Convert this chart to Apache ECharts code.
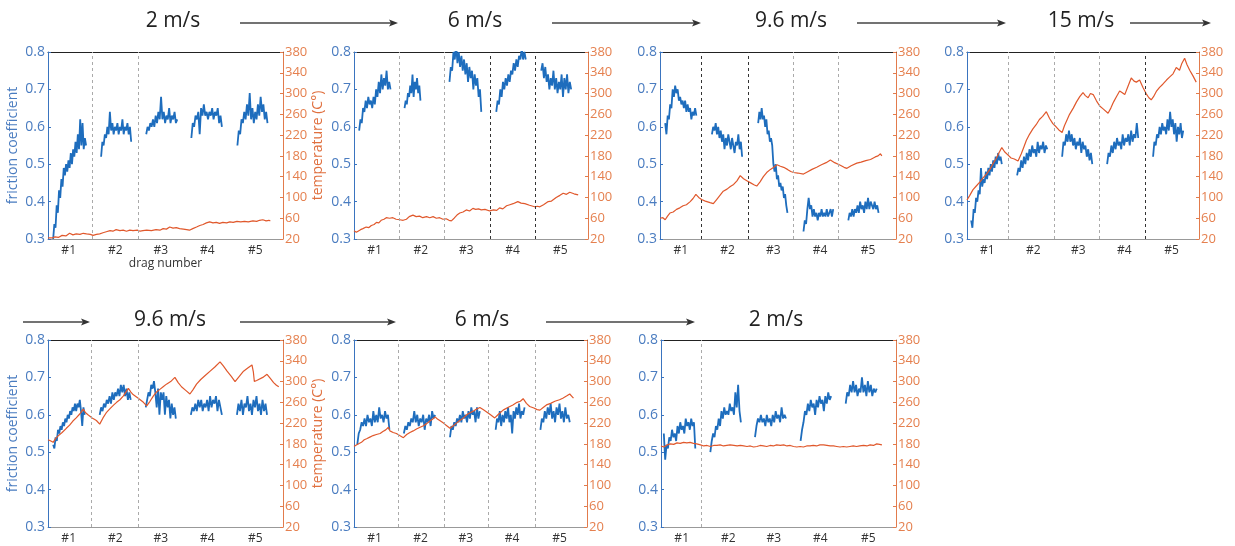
<!DOCTYPE html>
<html><head><meta charset="utf-8">
<script src="https://cdn.jsdelivr.net/npm/echarts@6/dist/echarts.min.js"></script>
<style>html,body{margin:0;padding:0;background:#fff}#c{width:1235px;height:546px}</style>
</head><body><div id="c"></div>
<script>
// ---------- data ----------
const dragLabels = ['#1','#2','#3','#4','#5'];
const dragLabelPos = [0.94, 1.93, 2.9, 3.89, 4.91];
const frictionTicks = [0.3, 0.8, 0.1];   // min, max, step
const tempTicks = [20, 380, 40];
const speedsRow1 = ['2 m/s', '6 m/s', '9.6 m/s', '15 m/s'];
const speedsRow2 = ['9.6 m/s', '6 m/s', '2 m/s'];

// friction: per drag, values sampled evenly over the drag's span
const fricSpan1 = [[0.61,1.31],[1.63,2.27],[2.59,3.25],[3.55,4.2],[4.53,5.17]];
const fric1 = [
 [0.30,0.34,0.33,0.39,0.37,0.43,0.41,0.46,0.44,0.49,0.47,0.50,0.48,0.51,0.49,0.53,0.50,0.54,0.52,0.56,0.53,0.58,0.54,0.62,0.55,0.61,0.54,0.57,0.55],
 [0.52,0.56,0.55,0.58,0.57,0.60,0.58,0.64,0.59,0.61,0.58,0.60,0.59,0.61,0.58,0.60,0.59,0.62,0.58,0.60,0.59,0.61,0.58,0.60,0.56],
 [0.58,0.60,0.59,0.61,0.60,0.62,0.60,0.63,0.61,0.64,0.62,0.68,0.62,0.64,0.61,0.63,0.62,0.65,0.61,0.63,0.62,0.64,0.61,0.62],
 [0.57,0.61,0.60,0.63,0.62,0.64,0.58,0.65,0.63,0.66,0.63,0.64,0.62,0.64,0.63,0.65,0.62,0.64,0.63,0.65,0.61,0.63,0.60],
 [0.55,0.59,0.58,0.62,0.61,0.64,0.62,0.66,0.63,0.69,0.62,0.65,0.61,0.64,0.62,0.66,0.63,0.68,0.64,0.66,0.62,0.64,0.61]];
const fricSpan2 = [[0.61,1.28],[1.58,1.92],[2.54,3.22],[3.54,4.17],[4.5,5.14]];
const fric2 = [
 [0.59,0.62,0.61,0.65,0.64,0.67,0.65,0.68,0.66,0.67,0.65,0.68,0.66,0.70,0.68,0.72,0.69,0.74,0.70,0.73,0.71,0.75,0.70,0.72,0.70],
 [0.65,0.67,0.66,0.69,0.68,0.71,0.69,0.74,0.68,0.72,0.70,0.73,0.69,0.71,0.67],
 [0.72,0.76,0.75,0.80,0.78,0.82,0.77,0.80,0.76,0.79,0.75,0.78,0.74,0.77,0.72,0.76,0.73,0.75,0.70,0.74,0.71,0.73,0.68,0.70,0.64],
 [0.64,0.67,0.66,0.70,0.68,0.72,0.70,0.73,0.71,0.74,0.72,0.75,0.74,0.77,0.75,0.78,0.76,0.79,0.78,0.81,0.78,0.80,0.78],
 [0.75,0.77,0.73,0.76,0.72,0.74,0.70,0.73,0.71,0.75,0.70,0.73,0.69,0.72,0.70,0.74,0.68,0.73,0.70,0.74,0.69,0.72,0.70]];
const fricSpan3 = [[0.61,1.27],[1.6,2.24],[2.58,3.2],[3.54,4.17],[4.49,5.13]];
const fric3 = [
 [0.61,0.58,0.63,0.62,0.66,0.65,0.70,0.68,0.71,0.69,0.70,0.67,0.68,0.66,0.67,0.65,0.67,0.64,0.66,0.64,0.65,0.62,0.64,0.63,0.65,0.63],
 [0.58,0.60,0.59,0.61,0.58,0.60,0.57,0.59,0.56,0.58,0.54,0.57,0.55,0.58,0.56,0.54,0.57,0.55,0.53,0.56,0.55,0.58,0.54,0.56,0.52],
 [0.61,0.64,0.62,0.65,0.62,0.63,0.60,0.62,0.58,0.59,0.56,0.57,0.55,0.50,0.48,0.50,0.46,0.47,0.44,0.45,0.43,0.44,0.41,0.42,0.39,0.37],
 [0.32,0.35,0.34,0.38,0.41,0.38,0.39,0.36,0.38,0.36,0.37,0.35,0.37,0.36,0.38,0.36,0.37,0.36,0.38,0.36,0.37,0.38,0.36,0.38],
 [0.35,0.37,0.36,0.38,0.36,0.38,0.37,0.39,0.37,0.40,0.38,0.39,0.37,0.40,0.38,0.41,0.38,0.40,0.39,0.38,0.40,0.38,0.39,0.37]];
const fricSpan4 = [[0.59,1.25],[1.58,2.23],[2.55,3.2],[3.52,4.19],[4.51,5.16]];
const fric4 = [
 [0.35,0.33,0.38,0.37,0.41,0.40,0.43,0.42,0.49,0.44,0.46,0.45,0.48,0.46,0.49,0.47,0.50,0.48,0.51,0.49,0.52,0.50,0.53,0.51,0.52,0.50],
 [0.47,0.49,0.48,0.51,0.49,0.52,0.50,0.53,0.51,0.54,0.52,0.55,0.53,0.54,0.52,0.56,0.53,0.55,0.54,0.56,0.53,0.55,0.54],
 [0.52,0.56,0.55,0.58,0.56,0.59,0.56,0.58,0.55,0.57,0.54,0.56,0.55,0.57,0.53,0.56,0.54,0.55,0.52,0.54,0.51,0.53,0.50],
 [0.50,0.53,0.52,0.55,0.53,0.56,0.54,0.57,0.55,0.56,0.54,0.58,0.55,0.57,0.56,0.58,0.55,0.59,0.56,0.58,0.57,0.61,0.57],
 [0.52,0.56,0.55,0.58,0.57,0.60,0.58,0.61,0.59,0.60,0.58,0.62,0.59,0.64,0.60,0.62,0.58,0.61,0.56,0.60,0.58,0.61,0.57,0.59]];
const fricSpan5 = [[0.61,1.28],[1.6,2.26],[2.58,3.22],[3.54,4.2],[4.52,5.16]];
const fric5 = [
 [0.52,0.51,0.54,0.53,0.56,0.55,0.57,0.56,0.58,0.57,0.59,0.58,0.60,0.59,0.61,0.60,0.62,0.61,0.63,0.61,0.63,0.62,0.64,0.61,0.57,0.62,0.60],
 [0.60,0.62,0.61,0.63,0.62,0.64,0.63,0.65,0.63,0.66,0.64,0.66,0.65,0.67,0.65,0.68,0.66,0.68,0.65,0.67,0.64,0.66,0.64],
 [0.62,0.64,0.66,0.65,0.68,0.67,0.69,0.66,0.62,0.67,0.60,0.66,0.64,0.66,0.60,0.65,0.62,0.64,0.59,0.63,0.60,0.62,0.59],
 [0.60,0.62,0.61,0.63,0.61,0.64,0.62,0.64,0.61,0.63,0.62,0.64,0.61,0.65,0.62,0.64,0.63,0.65,0.61,0.64,0.62,0.60],
 [0.60,0.63,0.61,0.64,0.60,0.63,0.62,0.65,0.61,0.63,0.60,0.64,0.62,0.65,0.61,0.63,0.60,0.64,0.61,0.63,0.60]];
const fricSpan6 = [[0.57,1.26],[1.57,2.24],[2.56,3.2],[3.54,4.16],[4.5,5.13]];
const fric6 = [
 [0.52,0.55,0.56,0.58,0.57,0.59,0.57,0.60,0.58,0.59,0.57,0.61,0.58,0.60,0.58,0.62,0.59,0.60,0.58,0.61,0.59,0.60,0.56],
 [0.55,0.57,0.56,0.58,0.57,0.59,0.58,0.61,0.58,0.60,0.57,0.59,0.58,0.60,0.56,0.59,0.58,0.60,0.57,0.61,0.59,0.60],
 [0.54,0.57,0.56,0.58,0.57,0.59,0.58,0.60,0.58,0.61,0.59,0.60,0.58,0.61,0.59,0.62,0.60,0.61,0.58,0.62,0.59,0.61],
 [0.56,0.59,0.58,0.61,0.57,0.60,0.58,0.61,0.59,0.62,0.58,0.60,0.55,0.61,0.59,0.62,0.60,0.63,0.59,0.61,0.60,0.62],
 [0.56,0.59,0.58,0.61,0.59,0.62,0.60,0.63,0.59,0.61,0.58,0.62,0.60,0.63,0.59,0.61,0.58,0.62,0.59,0.60,0.58]];
const fricSpan7 = [[0.56,1.23],[1.55,2.2],[2.5,3.16],[3.47,4.12],[4.43,5.09]];
const fric7 = [
 [0.55,0.48,0.52,0.51,0.54,0.53,0.56,0.54,0.55,0.53,0.57,0.55,0.58,0.56,0.57,0.55,0.59,0.57,0.58,0.56,0.59,0.57,0.58,0.51],
 [0.50,0.53,0.55,0.54,0.57,0.56,0.59,0.57,0.61,0.59,0.62,0.60,0.61,0.60,0.63,0.61,0.62,0.60,0.66,0.62,0.68,0.61,0.58],
 [0.54,0.57,0.59,0.58,0.60,0.58,0.59,0.57,0.60,0.58,0.59,0.57,0.60,0.58,0.61,0.59,0.60,0.58,0.62,0.59,0.60,0.59],
 [0.53,0.56,0.58,0.61,0.60,0.63,0.61,0.64,0.62,0.63,0.60,0.64,0.62,0.65,0.63,0.64,0.61,0.65,0.63,0.66,0.64,0.65],
 [0.63,0.66,0.65,0.68,0.66,0.69,0.66,0.68,0.65,0.67,0.66,0.70,0.66,0.68,0.65,0.69,0.66,0.68,0.65,0.67,0.66,0.67]];

// temperature: [drag position, °C]
const temp1 = [[0.5,22],[0.58,22],[0.65,24],[0.72,23],[0.8,27],[0.88,26],[0.96,31],[1.03,28],[1.1,30],[1.18,29],[1.25,31],[1.32,30],[1.4,29],[1.46,27],[1.53,29],[1.6,30],[1.67,32],[1.74,34],[1.82,36],[1.88,35],[1.95,38],[2.03,36],[2.1,37],[2.17,35],[2.24,37],[2.31,36],[2.4,37],[2.46,35],[2.52,36],[2.6,37],[2.7,36],[2.8,38],[2.88,37],[2.95,40],[3.02,39],[3.09,43],[3.16,41],[3.23,42],[3.3,40],[3.38,39],[3.45,38],[3.51,37],[3.58,40],[3.66,43],[3.73,46],[3.8,48],[3.87,51],[3.94,53],[4.01,51],[4.08,52],[4.15,50],[4.22,52],[4.3,51],[4.37,53],[4.44,52],[4.52,54],[4.6,53],[4.68,54],[4.76,53],[4.86,55],[4.94,54],[5.0,56],[5.07,57],[5.14,55],[5.2,56],[5.23,55]];
const temp2 = [[0.5,36],[0.55,33],[0.59,36],[0.64,38],[0.69,40],[0.76,43],[0.82,42],[0.87,46],[0.93,48],[0.98,52],[1.03,51],[1.08,56],[1.14,58],[1.19,61],[1.26,60],[1.33,61],[1.4,58],[1.48,57],[1.55,56],[1.62,58],[1.68,63],[1.72,60],[1.76,66],[1.83,63],[1.9,64],[1.97,61],[2.05,63],[2.12,61],[2.19,63],[2.26,60],[2.33,61],[2.4,58],[2.47,59],[2.53,56],[2.58,55],[2.64,60],[2.7,66],[2.76,70],[2.83,72],[2.9,76],[2.97,74],[3.04,79],[3.1,77],[3.16,78],[3.22,76],[3.3,77],[3.4,74],[3.48,76],[3.55,75],[3.61,80],[3.68,78],[3.76,84],[3.83,86],[3.9,88],[4.0,92],[4.07,89],[4.15,88],[4.25,85],[4.36,82],[4.42,83],[4.47,82],[4.55,86],[4.65,92],[4.72,93],[4.82,100],[4.9,104],[4.97,108],[5.04,106],[5.11,110],[5.2,107],[5.29,105]];
const temp3 = [[0.5,60],[0.56,61],[0.61,57],[0.66,64],[0.71,70],[0.78,72],[0.85,77],[0.92,80],[0.99,84],[1.06,86],[1.14,92],[1.2,98],[1.26,106],[1.32,100],[1.38,96],[1.46,93],[1.56,90],[1.63,88],[1.7,96],[1.77,104],[1.84,112],[1.92,116],[1.99,121],[2.06,125],[2.13,132],[2.2,142],[2.27,136],[2.34,132],[2.42,128],[2.5,124],[2.55,122],[2.62,130],[2.69,140],[2.76,148],[2.84,154],[2.91,158],[2.98,163],[3.05,160],[3.12,158],[3.2,154],[3.27,150],[3.33,148],[3.42,147],[3.54,145],[3.62,149],[3.72,154],[3.82,158],[3.92,163],[4.02,167],[4.11,172],[4.2,167],[4.32,162],[4.4,158],[4.46,156],[4.55,161],[4.67,166],[4.76,168],[4.86,171],[4.96,173],[5.06,178],[5.12,180],[5.17,184],[5.2,180]];
const temp4 = [[0.5,95],[0.56,104],[0.63,115],[0.7,122],[0.78,130],[0.85,138],[0.92,145],[1.0,155],[1.06,165],[1.13,175],[1.19,186],[1.25,196],[1.31,188],[1.38,182],[1.45,176],[1.52,174],[1.6,170],[1.67,184],[1.73,198],[1.78,210],[1.85,222],[1.92,232],[1.99,240],[2.06,250],[2.13,256],[2.21,265],[2.28,252],[2.35,242],[2.42,236],[2.48,230],[2.55,225],[2.6,238],[2.66,250],[2.71,260],[2.79,272],[2.86,284],[2.93,294],[3.0,302],[3.05,296],[3.11,292],[3.16,300],[3.22,298],[3.29,286],[3.36,276],[3.44,270],[3.54,262],[3.6,272],[3.66,284],[3.72,294],[3.79,305],[3.84,302],[3.9,298],[3.97,314],[4.04,330],[4.1,324],[4.15,322],[4.22,326],[4.29,312],[4.36,300],[4.42,292],[4.47,288],[4.52,294],[4.58,304],[4.65,312],[4.72,318],[4.8,326],[4.87,332],[4.94,338],[5.01,350],[5.08,345],[5.13,358],[5.19,368],[5.24,356],[5.3,345],[5.37,334],[5.44,322]];
const temp5 = [[0.5,188],[0.55,186],[0.61,183],[0.66,190],[0.71,195],[0.8,202],[0.89,210],[0.96,216],[1.03,224],[1.1,230],[1.18,238],[1.25,247],[1.3,240],[1.35,236],[1.44,230],[1.53,225],[1.6,218],[1.67,230],[1.74,240],[1.82,248],[1.9,255],[1.96,260],[2.03,265],[2.1,272],[2.16,280],[2.21,287],[2.26,280],[2.31,275],[2.42,268],[2.53,260],[2.6,253],[2.67,262],[2.74,272],[2.81,280],[2.88,285],[2.95,290],[3.02,295],[3.11,300],[3.2,308],[3.27,298],[3.34,290],[3.43,283],[3.52,276],[3.59,285],[3.66,295],[3.75,304],[3.85,312],[3.95,320],[4.05,328],[4.16,338],[4.23,330],[4.31,320],[4.4,310],[4.48,300],[4.57,310],[4.66,320],[4.75,326],[4.84,332],[4.87,318],[4.89,300],[4.94,302],[4.98,300],[5.07,308],[5.16,314],[5.23,306],[5.3,298],[5.36,293],[5.41,290]];
const temp6 = [[0.5,175],[0.55,178],[0.59,180],[0.66,183],[0.72,188],[0.77,190],[0.84,193],[0.91,196],[0.98,198],[1.06,200],[1.12,204],[1.18,207],[1.24,212],[1.27,205],[1.34,202],[1.41,200],[1.48,196],[1.56,192],[1.63,198],[1.7,202],[1.77,205],[1.85,209],[1.92,212],[1.99,215],[2.06,219],[2.13,224],[2.19,228],[2.24,232],[2.29,228],[2.34,225],[2.42,220],[2.49,215],[2.56,210],[2.63,215],[2.7,220],[2.77,225],[2.85,230],[2.92,236],[2.99,240],[3.06,243],[3.13,247],[3.2,250],[3.27,246],[3.34,242],[3.43,236],[3.52,230],[3.6,237],[3.7,245],[3.8,250],[3.91,255],[4.0,260],[4.07,262],[4.13,267],[4.2,258],[4.27,252],[4.36,249],[4.43,246],[4.49,245],[4.56,250],[4.63,255],[4.72,258],[4.81,262],[4.91,265],[4.98,268],[5.06,272],[5.13,276],[5.17,272],[5.21,268]];
const temp7 = [[0.5,176],[0.56,174],[0.63,178],[0.7,180],[0.77,179],[0.84,182],[0.91,181],[0.98,183],[1.05,182],[1.12,183],[1.19,181],[1.26,180],[1.34,178],[1.41,176],[1.48,177],[1.55,175],[1.62,177],[1.69,177],[1.76,178],[1.83,176],[1.9,177],[1.97,178],[2.05,177],[2.12,176],[2.19,177],[2.26,176],[2.33,175],[2.4,176],[2.47,174],[2.54,175],[2.61,177],[2.68,176],[2.75,175],[2.82,177],[2.89,176],[2.96,178],[3.04,177],[3.11,178],[3.18,176],[3.25,177],[3.32,175],[3.39,174],[3.46,175],[3.53,174],[3.6,176],[3.67,176],[3.74,177],[3.81,176],[3.88,178],[3.96,178],[4.03,177],[4.1,176],[4.17,176],[4.24,175],[4.31,174],[4.38,175],[4.45,174],[4.52,175],[4.59,176],[4.66,175],[4.73,176],[4.81,177],[4.88,176],[4.95,178],[5.02,177],[5.09,180],[5.15,179],[5.2,178]];

// drag boundaries (position, dark?)
const div1 = [[1.44,0],[2.42,0]];
const div2 = [[1.46,0],[2.42,0],[3.41,1],[4.37,1]];
const div3 = [[1.38,1],[2.36,1],[3.33,0],[4.28,0]];
const div4 = [[1.38,0],[2.39,0],[3.36,0],[4.35,1]];
const div5 = [[1.42,0],[2.41,0]];
const div6 = [[1.44,0],[2.43,0],[3.39,0],[4.38,0]];
const div7 = [[1.36,0]];

// ---------- build ----------
const fricAll = [fric1,fric2,fric3,fric4,fric5,fric6,fric7];
const spanAll = [fricSpan1,fricSpan2,fricSpan3,fricSpan4,fricSpan5,fricSpan6,fricSpan7];
const tempAll = [temp1,temp2,temp3,temp4,temp5,temp6,temp7];
const divAll = [div1,div2,div3,div4,div5,div6,div7];

const gridsPx = [
 {left:48, top:52, width:235, height:187},
 {left:354, top:52, width:234, height:187},
 {left:660, top:52, width:236, height:187},
 {left:967, top:52, width:232, height:187},
 {left:48, top:340, width:235, height:187},
 {left:354, top:340, width:233, height:187},
 {left:661, top:340, width:235, height:187}];
const withTitles = [true,false,false,false,true,false,false];

const BLUE = '#1e6dbd', ORANGE = '#e0582c';
const FONT = '"Open Sans", "Noto Sans", sans-serif';

const grid = [], xAxis = [], yAxis = [], series = [];
gridsPx.forEach((g, p) => {
  grid.push(Object.assign({containLabel:false}, g));
  xAxis.push({
    gridIndex:p, type:'value', min:0.5, max:5.5, position:'bottom',
    name: p===0 ? 'drag number' : '', nameLocation:'middle', nameGap:19,
    nameTextStyle:{color:'#333', fontSize:12, fontFamily:FONT},
    axisLine:{show:true, onZero:false, lineStyle:{color:'#999', width:1}},
    axisTick:{show:false},
    axisLabel:{show:true, customValues:dragLabelPos, margin:6, color:'#333', fontSize:12, fontFamily:FONT,
      formatter: v => { let i = dragLabelPos.findIndex(q => Math.abs(q - v) < 0.01); return i >= 0 ? dragLabels[i] : ''; }},
    splitLine:{show:false}
  });
});
gridsPx.forEach((g, p) => {
  xAxis.push({
    gridIndex:p, type:'value', min:0.5, max:5.5, position:'top',
    axisLine:{show:true, onZero:false, lineStyle:{color:'#222', width:1}},
    axisTick:{show:false}, axisLabel:{show:false}, splitLine:{show:false}
  });
});
gridsPx.forEach((g, p) => {
  yAxis.push({
    gridIndex:p, type:'value', position:'left',
    min:frictionTicks[0], max:frictionTicks[1], interval:frictionTicks[2],
    name: withTitles[p] ? 'friction coefficient' : '', nameLocation:'middle', nameGap:28, nameRotate:90,
    nameTextStyle:{color:'#4a7cc0', fontSize:14, fontFamily:FONT},
    axisLine:{show:true, lineStyle:{color:'#3a74bf', width:1}},
    axisTick:{show:true, inside:true, length:3, lineStyle:{color:'#3a74bf'}},
    axisLabel:{color:'#4a7cc0', fontSize:14, margin:3, fontFamily:FONT, formatter: v => v.toFixed(1)},
    splitLine:{show:false}
  });
  yAxis.push({
    gridIndex:p, type:'value', position:'right',
    min:tempTicks[0], max:tempTicks[1], interval:tempTicks[2],
    name: withTitles[p] ? 'temperature (C°)' : '', nameLocation:'middle', nameGap:25, nameRotate:90,
    nameTextStyle:{color:'#e0703f', fontSize:14, fontFamily:FONT},
    axisLine:{show:true, lineStyle:{color:'#e27b4c', width:1}},
    axisTick:{show:true, inside:true, length:3, lineStyle:{color:'#e27b4c'}},
    axisLabel:{color:'#e5804f', fontSize:13, margin:2, fontFamily:FONT},
    splitLine:{show:false}
  });
});

gridsPx.forEach((g, p) => {
  fricAll[p].forEach((vals, d) => {
    const [s, e] = spanAll[p][d];
    const data = vals.map((v, i) => [s + (e - s) * i / (vals.length - 1), v]);
    const ser = {
      type:'line', xAxisIndex:p, yAxisIndex:p*2, data, showSymbol:false, symbol:'none',
      lineStyle:{color:BLUE, width:1.8, join:'bevel'}, itemStyle:{color:BLUE}, z:2, silent:true, animation:false
    };
    if (d === 0) {
      ser.markLine = {
        silent:true, symbol:['none','none'], label:{show:false}, animation:false,
        data: divAll[p].map(([x, dark]) => ({xAxis:x, lineStyle:{color: dark ? '#333' : '#aaa', type:[3,3], width:1}}))
      };
    }
    series.push(ser);
  });
  series.push({
    type:'line', xAxisIndex:p, yAxisIndex:p*2+1, data:tempAll[p], showSymbol:false, symbol:'none',
    lineStyle:{color:ORANGE, width:1.2}, itemStyle:{color:ORANGE}, z:3, silent:true, animation:false
  });
});

// titles and arrows (layout only)
const graphic = [];
function title(t, x, y) {
  graphic.push({type:'text', x:x, y:y, style:{text:t, fill:'#222', font:'21px "Open Sans", sans-serif', textAlign:'center', textVerticalAlign:'middle'}});
}
function arrow(x1, x2, y) {
  graphic.push({type:'line', shape:{x1:x1, y1:y, x2:x2-3, y2:y}, style:{stroke:'#444', lineWidth:1.3}});
  graphic.push({type:'polygon', shape:{points:[[x2+1,y],[x2-8,y-3.5],[x2-6,y],[x2-8,y+3.5]]}, style:{fill:'#333'}});
}
const t1x = [173, 475, 791, 1081];
speedsRow1.forEach((t, i) => title(t, t1x[i], 21));
[[240,397],[552,700],[857,1005],[1130,1210]].forEach(a => arrow(a[0], a[1], 23));
const t2x = [170, 482, 776];
speedsRow2.forEach((t, i) => title(t, t2x[i], 320));
[[23,89],[240,395],[546,694]].forEach(a => arrow(a[0], a[1], 322));

const chart = echarts.init(document.getElementById('c'), null, {renderer:'canvas'});
chart.setOption({
  animation:false, backgroundColor:'#fff',
  grid, xAxis, yAxis, series, graphic
});
</script></body></html>
